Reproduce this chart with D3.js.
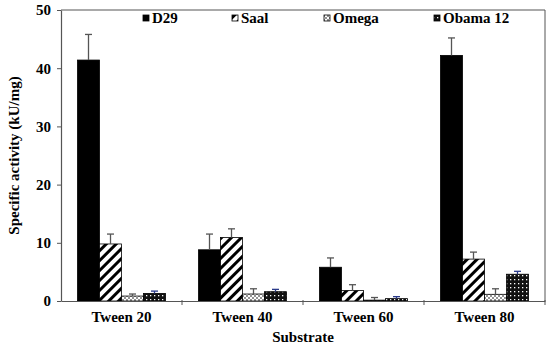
<!DOCTYPE html>
<html>
<head>
<meta charset="utf-8">
<script src="https://cdn.jsdelivr.net/npm/d3@7"></script>
<style>
  body { margin: 0; background: #fff; }
</style>
</head>
<body>
<script>
var width = 550;
var height = 347;
var FONT = "'Liberation Serif', 'Times New Roman', Times, 'DejaVu Serif', serif";

var categories = ["Tween 20", "Tween 40", "Tween 60", "Tween 80"];
var seriesNames = ["D29", "Saal", "Omega", "Obama 12"];

var d29      = [41.4, 8.8, 5.8, 42.2];
var d29Err   = [4.4, 2.7, 1.6, 3.0];
var saal     = [9.8, 10.9, 1.8, 7.2];
var saalErr  = [1.7, 1.5, 1.0, 1.2];
var omega    = [0.85, 1.2, 0.15, 1.15];
var omegaErr = [0.35, 0.9, 0.45, 0.95];
var obama    = [1.3, 1.6, 0.4, 4.6];
var obamaErr = [0.4, 0.4, 0.35, 0.5];

var yTicks = [0, 10, 20, 30, 40, 50];

var values = [d29, saal, omega, obama];
var errors = [d29Err, saalErr, omegaErr, obamaErr];
var fills = ["#000", "url(#stripe)", "url(#check)", "url(#dots)"];
var errColors = ["#555", "#555", "#555", "#2a3a8a"];

var margin = {left: 61, right: 5, top: 10, bottom: 46};
var plotW = width - margin.left - margin.right;
var plotH = height - margin.top - margin.bottom;

var svg = d3.select("body").append("svg")
    .attr("width", width)
    .attr("height", height)
    .style("font-family", FONT)
    .style("font-weight", "bold");

// patterns
var defs = svg.append("defs");
var stripe = defs.append("pattern").attr("id", "stripe")
    .attr("patternUnits", "userSpaceOnUse").attr("width", 7).attr("height", 7)
    .attr("patternTransform", "rotate(45)");
stripe.append("rect").attr("width", 7).attr("height", 7).attr("fill", "#fff");
stripe.append("rect").attr("width", 3).attr("height", 7).attr("fill", "#000");

var check = defs.append("pattern").attr("id", "check")
    .attr("patternUnits", "userSpaceOnUse").attr("width", 4).attr("height", 4);
check.append("rect").attr("width", 4).attr("height", 4).attr("fill", "#fff");
check.append("path").attr("d", "M0,0L4,4M4,0L0,4").attr("stroke", "#777").attr("stroke-width", 0.8);

var dots = defs.append("pattern").attr("id", "dots")
    .attr("patternUnits", "userSpaceOnUse").attr("width", 4).attr("height", 4);
dots.append("rect").attr("width", 4).attr("height", 4).attr("fill", "#111");
dots.append("rect").attr("x", 1).attr("y", 1).attr("width", 1.3).attr("height", 1.3).attr("fill", "#fff");

var g = svg.append("g").attr("transform", "translate(" + margin.left + "," + margin.top + ")");

var x0 = d3.scaleBand().domain(categories).range([0, plotW]);
var groupW = 88;
var x1 = d3.scaleBand().domain(d3.range(seriesNames.length)).range([0, groupW]);
var y = d3.scaleLinear().domain([0, 50]).range([plotH, 0]);

// box
g.append("line").attr("x1", 0).attr("x2", plotW).attr("y1", 0).attr("y2", 0).attr("stroke", "#555");
g.append("line").attr("x1", plotW).attr("x2", plotW).attr("y1", 0).attr("y2", plotH).attr("stroke", "#555");

// bars
categories.forEach(function (c, ci) {
  var gx = x0(c) + (x0.bandwidth() - groupW) / 2;
  values.forEach(function (arr, si) {
    var bx = gx + x1(si);
    var bw = x1.bandwidth();
    g.append("rect")
      .attr("x", bx).attr("y", y(arr[ci]))
      .attr("width", bw).attr("height", plotH - y(arr[ci]))
      .attr("fill", fills[si])
      .attr("stroke", "#000").attr("stroke-width", 0.8);
    var top = arr[ci] + errors[si][ci];
    var cx = bx + bw / 2;
    g.append("line").attr("x1", cx).attr("x2", cx)
      .attr("y1", y(arr[ci])).attr("y2", y(top))
      .attr("stroke", errColors[si]).attr("stroke-width", 1.3);
    g.append("line").attr("x1", cx - 3.5).attr("x2", cx + 3.5)
      .attr("y1", y(top)).attr("y2", y(top))
      .attr("stroke", errColors[si]).attr("stroke-width", 1.3);
  });
});

// axes
var yAxis = g.append("g").call(d3.axisLeft(y).tickValues(yTicks).tickSize(4).tickSizeOuter(0).tickPadding(6));
yAxis.attr("font-family", null);
yAxis.select(".domain").attr("stroke", "#555").attr("stroke-width", 1.2);
yAxis.selectAll(".tick line").attr("stroke", "#555");
yAxis.selectAll("text").attr("font-size", 15).attr("fill", "#000");

var xAxis = g.append("g").attr("transform", "translate(0," + plotH + ")")
    .call(d3.axisBottom(x0).tickSize(0).tickSizeOuter(0).tickPadding(10));
xAxis.attr("font-family", null);
xAxis.select(".domain").attr("stroke", "#555").attr("stroke-width", 1.2);
xAxis.selectAll("text").attr("font-size", 15).attr("fill", "#000");

// category boundary ticks
g.selectAll(".bt").data(categories.slice(1).concat(["end"])).enter().append("line")
  .attr("x1", function (d) { return d === "end" ? plotW : x0(d); })
  .attr("x2", function (d) { return d === "end" ? plotW : x0(d); })
  .attr("y1", plotH - 1).attr("y2", plotH + 4)
  .attr("stroke", "#555");

// titles
svg.append("text").attr("x", margin.left + plotW / 2).attr("y", 342)
  .attr("text-anchor", "middle").attr("font-size", 15).text("Substrate");
svg.append("text")
  .attr("transform", "translate(19," + (margin.top + plotH / 2) + ") rotate(-90)")
  .attr("text-anchor", "middle").attr("font-size", 15).text("Specific activity (kU/mg)");

// legend
var legendX = [143, 232, 324, 434];
seriesNames.forEach(function (s, i) {
  svg.append("rect").attr("x", legendX[i]).attr("y", 15).attr("width", 6).attr("height", 6)
    .attr("fill", fills[i]).attr("stroke", "#000").attr("stroke-width", 0.8);
  svg.append("text").attr("x", legendX[i] + 9).attr("y", 22.5)
    .attr("font-size", 15).text(s);
});
</script>
</body>
</html>
